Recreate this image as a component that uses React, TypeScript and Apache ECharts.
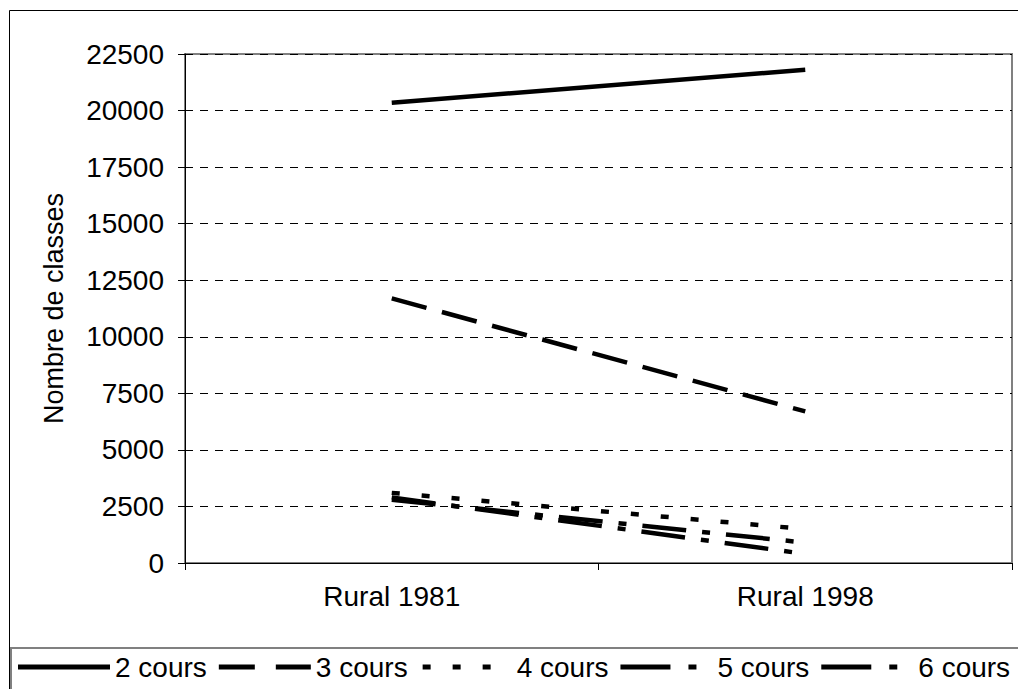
import React, { useEffect, useRef } from "react";
import * as echarts from "echarts";

const categories = ["Rural 1981", "Rural 1998"];
const seriesNames = ["2 cours", "3 cours", "4 cours", "5 cours", "6 cours"];
const cours2 = [20350, 21800];
const cours3 = [11700, 6700];
const cours4 = [3100, 1500];
const cours5 = [2800, 900];
const cours6 = [2900, 400];
const yTicks = [0, 2500, 5000, 7500, 10000, 12500, 15000, 17500, 20000, 22500];

const FONT = "'Liberation Sans', Arial, sans-serif";

// invisible tiny squares to pin the icon bounding box to 0..92 x 0..5
const EXT = " M0,2.5h0.01v0.01h-0.01z M91.99,2.5h0.01v0.01h-0.01z";
const legendIcons = [
  "path://M0,0H92V5H0Z",
  "path://M0,0H36V5H0Z M57,0H92V5H57Z" + EXT,
  "path://M3,0h8v5h-8z M33,0h8v5h-8z M63,0h8v5h-8z" + EXT,
  "path://M0,0h50v5h-50z M68,0h8v5h-8z" + EXT,
  "path://M0,0h50v5h-50z M68,0h8v5h-8z" + EXT,
];

export default function App() {
  const ref = useRef<HTMLDivElement>(null);
  useEffect(() => {
    if (!ref.current) return;
    const chart = echarts.init(ref.current, undefined, { renderer: "svg" });
    const dashes: any[] = ["solid", [36, 16], [8, 22], [44, 16, 8, 16], [44, 16, 8, 16]];
    const datas = [cours2, cours3, cours4, cours5, cours6];
    const yMin = yTicks[0];
    const yMax = yTicks[yTicks.length - 1];
    chart.setOption({
      animation: false,
      backgroundColor: "#ffffff",
      textStyle: { fontFamily: FONT },
      grid: {
        left: 185,
        right: 6,
        top: 54,
        bottom: 126,
        show: true,
        borderColor: "#808080",
        borderWidth: 2,
      },
      xAxis: {
        type: "category",
        data: categories,
        boundaryGap: true,
        axisLine: { lineStyle: { color: "#000", width: 1 } },
        axisTick: { show: true, length: 7, lineStyle: { color: "#000" } },
        axisLabel: { color: "#000", fontSize: 28, fontFamily: FONT, margin: 19 },
        splitLine: { show: false },
      },
      yAxis: [
        {
          type: "value",
          min: yMin,
          max: yMax,
          interval: 2500,
          name: "Nombre de classes",
          nameLocation: "middle",
          nameGap: 118,
          nameTextStyle: { color: "#000", fontSize: 27, fontFamily: FONT },
          axisLine: { show: true, lineStyle: { color: "#000", width: 1 } },
          axisTick: { show: true, length: 7, lineStyle: { color: "#000" } },
          axisLabel: {
            color: "#000",
            fontSize: 28,
            fontFamily: FONT,
            margin: 21,
            formatter: (v: number) => String(v),
          },
          splitLine: { show: true, lineStyle: { color: "#000", width: 1, type: [8, 7] } },
        },
        {
          type: "value",
          min: yMin,
          max: yMax,
          interval: 2500,
          position: "left",
          axisLine: { show: false },
          axisTick: { show: true, inside: true, length: 7, lineStyle: { color: "#000" } },
          axisLabel: { show: false },
          splitLine: { show: false },
        },
      ],
      legend: {
        left: 18,
        top: 653,
        padding: 0,
        itemWidth: 92,
        itemHeight: 5,
        itemGap: 12,
        textStyle: { color: "#000", fontSize: 28, fontFamily: FONT },
        data: seriesNames.map((n, i) => ({ name: n, icon: legendIcons[i] })),
      },
      graphic: [
        {
          type: "rect",
          shape: { x: 9.5, y: 10.5, width: 1030, height: 700 },
          style: { fill: "none", stroke: "#000", lineWidth: 1 },
          silent: true,
          z: -1,
        },
        {
          type: "rect",
          shape: { x: 11, y: 648, width: 1030, height: 60 },
          style: { fill: "none", stroke: "#808080", lineWidth: 2 },
          silent: true,
          z: -1,
        },
      ],
      series: seriesNames.map((n, i) => ({
        name: n,
        type: "line",
        data: datas[i],
        symbol: "none",
        showSymbol: false,
        lineStyle: { color: "#000", width: 4.5, type: dashes[i], cap: "butt" },
        itemStyle: { color: "#000" },
      })),
    });
    return () => chart.dispose();
  }, []);
  return (
    <div
      ref={ref}
      style={{ position: "fixed", left: 0, top: 0, width: 1018, height: 689 }}
    />
  );
}
